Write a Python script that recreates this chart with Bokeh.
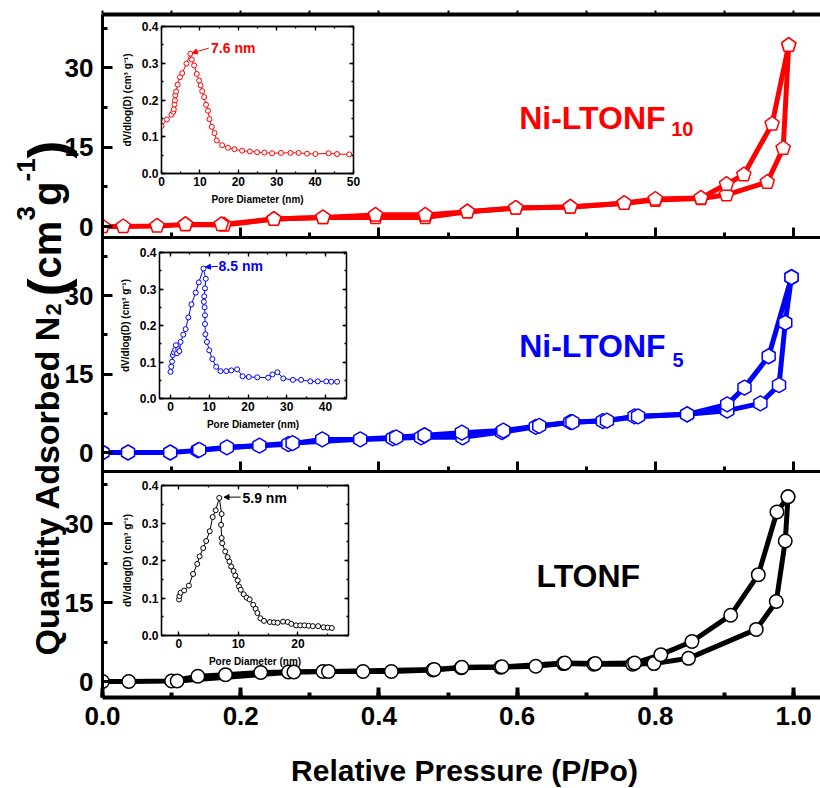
import math
from bokeh.plotting import figure
from bokeh.models import (GridBox, Range1d, FixedTicker, SingleIntervalTicker, LinearAxis,
                          Label, Arrow, NormalHead, PrintfTickFormatter, CustomJSTickFormatter)
from bokeh.embed import file_html
from bokeh.resources import INLINE

FONT = "Liberation Sans"

# ---------------- isotherm data (P/Po, quantity adsorbed) ----------------
ni10_ads_p = [0.0, 0.03, 0.079, 0.12, 0.176, 0.248, 0.319, 0.395, 0.467, 0.528, 0.598, 0.677,
              0.755, 0.80, 0.866, 0.903, 0.962, 0.985, 0.993]
ni10_ads_q = [0.0, 0.0, 0.1, 0.4, 0.3, 1.4, 1.7, 1.7, 1.7, 2.8, 3.5, 3.7,
              4.4, 5.0, 5.3, 6.0, 8.4, 14.8, 34.3]
ni10_des_p = [0.993, 0.969, 0.928, 0.903, 0.866, 0.80, 0.755, 0.677, 0.598, 0.528, 0.467, 0.395,
              0.319, 0.248, 0.172, 0.12]
ni10_des_q = [34.3, 19.4, 9.8, 8.0, 5.4, 5.2, 4.4, 3.7, 3.5, 2.8, 2.2, 2.2,
              1.7, 1.4, 0.4, 0.4]

ni5_ads_p = [0.0, 0.037, 0.098, 0.138, 0.18, 0.227, 0.269, 0.318, 0.373, 0.42, 0.461, 0.521,
             0.578, 0.627, 0.677, 0.724, 0.77, 0.846, 0.904, 0.952, 0.979, 0.988, 0.997]
ni5_ads_q = [0.0, 0.0, 0.0, 0.4, 1.0, 1.3, 1.6, 2.5, 2.5, 2.7, 2.9, 2.9,
             3.9, 4.9, 5.8, 6.0, 6.9, 7.3, 8.0, 9.4, 12.9, 24.8, 33.5]
ni5_des_p = [0.997, 0.964, 0.929, 0.904, 0.846, 0.775, 0.73, 0.68, 0.632, 0.58, 0.52, 0.466,
             0.425, 0.275, 0.14]
ni5_des_q = [33.5, 18.4, 12.4, 9.2, 7.3, 6.9, 6.1, 5.8, 5.1, 4.2, 3.8, 3.3,
             2.9, 1.8, 0.5]

lt_ads_p = [0.0, 0.038, 0.10, 0.138, 0.178, 0.229, 0.269, 0.319, 0.377, 0.418, 0.478, 0.519,
            0.576, 0.627, 0.667, 0.711, 0.767, 0.798, 0.848, 0.946, 0.975, 0.988, 0.992]
lt_ads_q = [0.0, 0.0, 0.1, 1.0, 1.3, 1.7, 1.8, 1.9, 1.9, 1.9, 2.2, 2.6,
            2.7, 2.9, 3.4, 3.3, 3.3, 3.4, 4.4, 9.9, 15.2, 26.7, 35.1]
lt_des_p = [0.992, 0.976, 0.949, 0.909, 0.853, 0.808, 0.77, 0.713, 0.669, 0.578, 0.52, 0.48,
            0.327, 0.277, 0.108]
lt_des_q = [35.1, 32.2, 20.3, 12.6, 7.6, 5.1, 3.5, 3.4, 3.5, 2.8, 2.7, 2.3,
            1.9, 1.8, 0.1]

# ---------------- pore size distribution data (nm, dV/dlog(D)) ----------------
ni10_psd_d = [0.0, 1.4, 2.6, 3.1, 3.2, 3.4, 3.5, 3.6, 3.8, 4.2, 4.8, 5.4, 6.5, 7.5, 7.9, 8.5,
              9.2, 9.8, 10.2, 10.6, 11.1, 11.6, 12.1, 12.5, 13.1, 13.8, 14.4, 15.8, 17.3, 19.0,
              21.0, 23.0, 24.9, 26.8, 28.8, 31.1, 33.6, 35.7, 37.9, 40.1, 43.5, 45.7, 48.9]
ni10_psd_v = [0.129, 0.147, 0.16, 0.168, 0.175, 0.188, 0.199, 0.213, 0.223, 0.242, 0.262, 0.273,
              0.299, 0.326, 0.31, 0.294, 0.271, 0.253, 0.24, 0.224, 0.208, 0.187, 0.171, 0.148,
              0.127, 0.11, 0.09, 0.077, 0.07, 0.066, 0.062, 0.06, 0.058, 0.057, 0.055, 0.056,
              0.056, 0.056, 0.054, 0.053, 0.055, 0.053, 0.052]

ni5_psd_d = [0.0, 0.2, 0.4, 0.6, 0.9, 1.2, 1.4, 1.7, 2.0, 2.3, 2.6, 3.3, 3.9, 4.6, 5.4, 6.5,
             7.3, 8.5, 9.1, 8.9, 8.7, 8.6, 8.8, 8.9, 8.9, 9.0, 9.4, 10.0, 10.8, 11.8, 12.9, 14.4,
             15.7, 17.2, 18.6, 20.2, 22.4, 25.2, 26.3, 27.6, 29.1, 31.6, 33.7, 36.1, 38.0, 40.2,
             41.5, 43.0]
ni5_psd_v = [0.073, 0.087, 0.101, 0.119, 0.126, 0.133, 0.146, 0.124, 0.135, 0.13, 0.155, 0.175,
             0.19, 0.222, 0.258, 0.29, 0.318, 0.356, 0.328, 0.302, 0.28, 0.265, 0.25, 0.228,
             0.204, 0.176, 0.155, 0.132, 0.108, 0.087, 0.075, 0.075, 0.077, 0.08, 0.061, 0.059,
             0.058, 0.057, 0.066, 0.072, 0.055, 0.051, 0.051, 0.047, 0.047, 0.047, 0.046, 0.046]

lt_psd_d = [0.05, 0.1, 0.3, 0.9, 1.7, 2.4, 3.1, 3.5, 4.1, 4.6, 5.2, 5.7, 6.2, 6.8, 7.2, 7.1,
            7.2, 7.3, 7.8, 8.2, 8.5, 8.8, 9.2, 9.5, 9.9, 10.1, 10.4, 10.9, 11.4, 11.9, 12.5,
            12.9, 13.2, 13.7, 14.3, 15.3, 16.0, 16.6, 17.5, 18.3, 18.9, 19.7, 20.4, 21.1, 21.8,
            22.5, 23.4, 24.3, 25.0, 25.7]
lt_psd_v = [0.096, 0.105, 0.114, 0.12, 0.133, 0.164, 0.191, 0.211, 0.233, 0.252, 0.278, 0.316,
            0.334, 0.367, 0.324, 0.295, 0.26, 0.246, 0.224, 0.209, 0.197, 0.184, 0.172, 0.16,
            0.147, 0.131, 0.122, 0.11, 0.101, 0.096, 0.082, 0.071, 0.06, 0.046, 0.039, 0.036,
            0.035, 0.034, 0.037, 0.036, 0.031, 0.027, 0.027, 0.027, 0.026, 0.025, 0.025, 0.022,
            0.021, 0.02]

RED, BLUE, BLACK = "#ff0000", "#0000ff", "#000000"

EMPTY = "return ''"


def style_axis(ax, width, tin, tmin, labels=True, fsize="26px", standoff=10, fmt=None):
    ax.axis_line_width = width
    ax.axis_line_color = "black"
    ax.major_tick_in = tin
    ax.major_tick_out = 0
    ax.minor_tick_in = tmin
    ax.minor_tick_out = 0
    ax.major_tick_line_width = width
    ax.minor_tick_line_width = width
    if labels:
        ax.major_label_text_font = FONT
        ax.major_label_text_font_style = "bold"
        ax.major_label_text_font_size = fsize
        ax.major_label_text_color = "black"
        ax.major_label_standoff = standoff
        if fmt is not None:
            ax.formatter = PrintfTickFormatter(format=fmt)
    else:
        ax.formatter = CustomJSTickFormatter(code=EMPTY)
        ax.major_label_text_font_size = "1px"
        ax.major_label_standoff = 0


def add_markers(p, x, y, color, kind):
    if kind == "circle":
        p.scatter(x, y, marker="circle", size=13.5, line_color=color, fill_color="white", line_width=1.5)
        return
    n = 5 if kind == "pent" else 6
    p.ngon(x=x, y=y, radius=7.5, radius_units="screen", n=n, angle=0,
           line_color=color, fill_color="white", line_width=1.5)


def panel(yr, frame_h, mb, color, kind, ads, des, top_axis=False, xlabels=False, bottom_w=3):
    p = figure(width=820, height=10 + frame_h + mb, x_range=Range1d(0, 1.039), y_range=Range1d(*yr),
               min_border_left=102, min_border_right=0, min_border_top=10, min_border_bottom=mb,
               output_backend="svg", toolbar_location=None, frame_align=False,
               background_fill_color=None, border_fill_color=None, outline_line_color=None)
    p.grid.visible = False
    xa = p.xaxis[0]
    xa.ticker = SingleIntervalTicker(interval=0.2, num_minor_ticks=2)
    style_axis(xa, bottom_w, 10, 5, labels=xlabels, fsize="26px", standoff=9, fmt="%.1f")
    ya = p.yaxis[0]
    ya.ticker = FixedTicker(ticks=[0, 15, 30], minor_ticks=[7.5, 22.5, 37.5])
    style_axis(ya, 3, 10, 5, labels=True, fsize="26px", standoff=9)
    if top_axis:
        ta = LinearAxis(ticker=SingleIntervalTicker(interval=0.1, num_minor_ticks=2))
        style_axis(ta, 4, 0, 0, labels=False)
        ta.major_tick_out = 4
        ta.major_tick_line_width = 2
        ta.minor_tick_line_color = None
        p.add_layout(ta, "above")
    p.line(ads[0], ads[1], line_color=color, line_width=5)
    p.line(des[0], des[1], line_color=color, line_width=5)
    add_markers(p, ads[0], ads[1], color, kind)
    add_markers(p, des[0], des[1], color, kind)
    return p


def inset(xr, fw, fh, d, v, color, peak_text, arrow, text_xy):
    p = figure(width=50 + fw + 8, height=8 + fh + 40, x_range=Range1d(*xr), y_range=Range1d(0, 0.4),
               min_border_left=50, min_border_right=8, min_border_top=8, min_border_bottom=40,
               output_backend="svg", toolbar_location=None, frame_align=False,
               background_fill_color=None, border_fill_color=None,
               outline_line_color="black", outline_line_width=1.3)
    p.grid.visible = False
    xa, ya = p.xaxis[0], p.yaxis[0]
    xa.ticker = SingleIntervalTicker(interval=10, num_minor_ticks=2)
    ya.ticker = SingleIntervalTicker(interval=0.1, num_minor_ticks=2)
    style_axis(xa, 1.3, 4, 2, labels=True, fsize="12px", standoff=3, fmt="%d")
    style_axis(ya, 1.3, 4, 2, labels=True, fsize="12px", standoff=3, fmt="%.1f")
    for ax in (xa, ya):
        ax.axis_label_text_font = FONT
        ax.axis_label_text_font_style = "bold"
        ax.axis_label_text_font_size = "10px"
        ax.axis_label_text_color = "black"
    xa.axis_label = "Pore Diameter (nm)"
    xa.axis_label_standoff = 5
    ya.axis_label = "dV/dlog(D) (cm\u00b3 g\u207b\u00b9)"
    ya.axis_label_standoff = 6
    ra = LinearAxis(ticker=SingleIntervalTicker(interval=0.1, num_minor_ticks=2))
    style_axis(ra, 1.3, 4, 2, labels=False)
    p.add_layout(ra, "right")
    ta = LinearAxis(ticker=SingleIntervalTicker(interval=10, num_minor_ticks=2))
    style_axis(ta, 1.3, 4, 2, labels=False)
    p.add_layout(ta, "above")
    p.line(d, v, line_color=color, line_width=1)
    p.scatter(d, v, marker="circle", size=5, line_color=color, fill_color="white", line_width=1)
    p.add_layout(Arrow(end=NormalHead(size=5, fill_color=color, line_color=color, line_width=1),
                       x_start=arrow[0], y_start=arrow[1], x_end=arrow[2], y_end=arrow[3],
                       line_color=color, line_width=1))
    p.add_layout(Label(x=text_xy[0], y=text_xy[1], text=peak_text, text_color=color,
                       text_font=FONT, text_font_style="bold", text_font_size="14px",
                       text_baseline="middle", text_align="left"))
    return p


def big_label(p, x, y, text, color, size, align="left"):
    p.add_layout(Label(x=x, y=y, text=text, text_color=color, text_font=FONT,
                       text_font_style="bold", text_font_size=size,
                       text_baseline="alphabetic", text_align=align))


# ---------------- main panels ----------------
p1 = panel((-2.08, 40.1), 223, 20, RED, "pent", (ni10_ads_p, ni10_ads_q), (ni10_des_p, ni10_des_q),
           top_axis=True)
big_label(p1, 0.603, 20.6, "Ni-LTONF", RED, "32px")
big_label(p1, 0.823, 18.5, "10", RED, "20px")

p2 = panel((-3.63, 41.1), 234, 20, BLUE, "hex", (ni5_ads_p, ni5_ads_q), (ni5_des_p, ni5_des_q))
big_label(p2, 0.603, 20.3, "Ni-LTONF", BLUE, "32px")
big_label(p2, 0.825, 17.6, "5", BLUE, "20px")

p3 = panel((-3.04, 39.9), 226, 50, BLACK, "circle", (lt_ads_p, lt_ads_q), (lt_des_p, lt_des_q),
           xlabels=True, bottom_w=4)
big_label(p3, 0.628, 20.1, "LTONF", BLACK, "32px")

# ---------------- insets ----------------
i1 = inset((0, 50), 192, 147, ni10_psd_d, ni10_psd_v, RED, "7.6 nm",
           (12.3, 0.341, 8.0, 0.328), (12.9, 0.341))
i2 = inset((-2.84, 45.42), 187, 146, ni5_psd_d, ni5_psd_v, BLUE, "8.5 nm",
           (12.2, 0.362, 9.0, 0.36), (12.4, 0.362))
i3 = inset((-2.9, 28.5), 187, 150, lt_psd_d, lt_psd_v, BLACK, "5.9 nm",
           (10.4, 0.369, 7.6, 0.369), (10.7, 0.367))

# ---------------- background with shared titles ----------------
H = 788
bg = figure(width=820, height=H, x_range=Range1d(0, 1), y_range=Range1d(0, 1),
            x_axis_type=None, y_axis_type=None, min_border=0, frame_align=False,
            output_backend="svg", toolbar_location=None, outline_line_color=None,
            background_fill_color="white", border_fill_color="white")
bg.grid.visible = False
bg.add_layout(Label(x=464, y=H - 770, x_units="screen", y_units="screen",
                    text="Relative Pressure (P/Po)", text_font=FONT, text_font_style="bold",
                    text_color="black",
                    text_font_size="30px", text_align="center", text_baseline="middle"))

# y title composed of pieces: (text, font px, baseline x, start y on page)
ytitle_parts = [
    ("Quantity Adsorbed N", 34, 46, 655),
    ("2", 22, 53, 315),
    ("(", 54, 46, 296),
    ("cm", 40, 46, 278),
    ("3", 26, 25, 220),
    ("g", 40, 46, 205.5),
    ("-1", 26, 25, 181),
    (")", 54, 46, 158),
]
for txt, fs, bx, sy in ytitle_parts:
    bg.add_layout(Label(x=bx, y=H - sy, x_units="screen", y_units="screen", angle=math.pi / 2,
                        text=txt, text_font=FONT, text_color="black", text_font_style="bold",
                        text_font_size=f"{fs}px", text_align="left", text_baseline="alphabetic"))

p1.margin = (4, 0, 0, 0)
p2.margin = (227, 0, 0, 0)
p3.margin = (461, 0, 0, 0)
i1.margin = (26 - 8, 0, 0, 161 - 50)
i2.margin = (252 - 8, 0, 0, 159 - 50)
i3.margin = (485 - 8, 0, 0, 161 - 50)

layout = GridBox(children=[(bg, 0, 0), (p1, 0, 0), (p2, 0, 0), (p3, 0, 0),
                           (i1, 0, 0), (i2, 0, 0), (i3, 0, 0)])

open("out.html", "w").write(file_html(layout, INLINE))
